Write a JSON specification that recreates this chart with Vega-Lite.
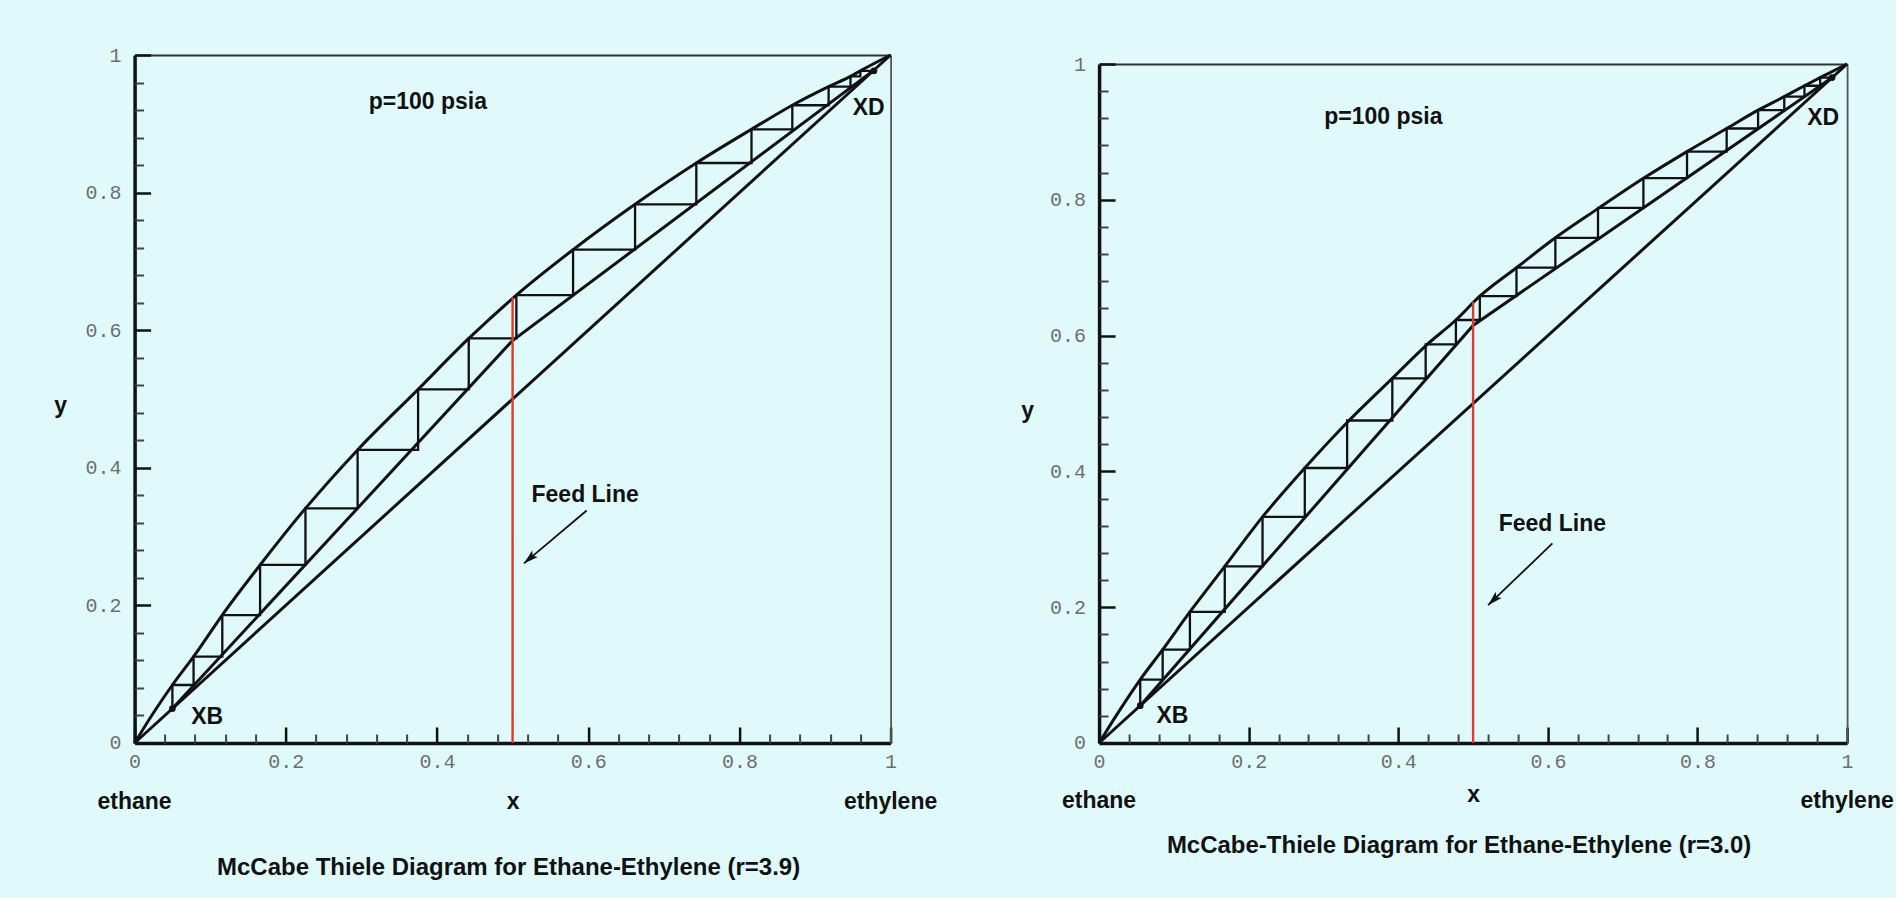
{
  "$schema": "https://vega.github.io/schema/vega-lite/v6.json",
  "background": "#e0fafb",
  "padding": {"left": 53.6, "top": 45, "right": 2, "bottom": 18},
  "spacing": 208.5,
  "bounds": "flush",
  "config": {"view": {"stroke": null}, "font": "Liberation Sans", "axis": {"grid": false}},
  "datasets": {
    "curvesL": [
      {"series": "equilibrium", "ord": 0, "x": 0, "y": 0},
      {"series": "equilibrium", "ord": 1, "x": 0.025, "y": 0.044},
      {"series": "equilibrium", "ord": 2, "x": 0.05, "y": 0.0843},
      {"series": "equilibrium", "ord": 3, "x": 0.078, "y": 0.1255},
      {"series": "equilibrium", "ord": 4, "x": 0.116, "y": 0.186},
      {"series": "equilibrium", "ord": 5, "x": 0.166, "y": 0.2587},
      {"series": "equilibrium", "ord": 6, "x": 0.226, "y": 0.341},
      {"series": "equilibrium", "ord": 7, "x": 0.295, "y": 0.426},
      {"series": "equilibrium", "ord": 8, "x": 0.375, "y": 0.514},
      {"series": "equilibrium", "ord": 9, "x": 0.442, "y": 0.588},
      {"series": "equilibrium", "ord": 10, "x": 0.505, "y": 0.651},
      {"series": "equilibrium", "ord": 11, "x": 0.58, "y": 0.717},
      {"series": "equilibrium", "ord": 12, "x": 0.662, "y": 0.783},
      {"series": "equilibrium", "ord": 13, "x": 0.743, "y": 0.843},
      {"series": "equilibrium", "ord": 14, "x": 0.816, "y": 0.892},
      {"series": "equilibrium", "ord": 15, "x": 0.87, "y": 0.927},
      {"series": "equilibrium", "ord": 16, "x": 0.918, "y": 0.954},
      {"series": "equilibrium", "ord": 17, "x": 0.947, "y": 0.969},
      {"series": "equilibrium", "ord": 18, "x": 0.96, "y": 0.977},
      {"series": "equilibrium", "ord": 19, "x": 1, "y": 1},
      {"series": "diagonal", "ord": 0, "x": 0, "y": 0},
      {"series": "diagonal", "ord": 1, "x": 1, "y": 1},
      {"series": "operating", "ord": 0, "x": 0.05, "y": 0.05},
      {"series": "operating", "ord": 1, "x": 0.5, "y": 0.585},
      {"series": "operating", "ord": 2, "x": 0.978, "y": 0.978},
      {"series": "stairs", "ord": 0, "x": 0.978, "y": 0.977},
      {"series": "stairs", "ord": 1, "x": 0.96, "y": 0.977},
      {"series": "stairs", "ord": 2, "x": 0.96, "y": 0.969},
      {"series": "stairs", "ord": 3, "x": 0.947, "y": 0.969},
      {"series": "stairs", "ord": 4, "x": 0.947, "y": 0.954},
      {"series": "stairs", "ord": 5, "x": 0.918, "y": 0.954},
      {"series": "stairs", "ord": 6, "x": 0.918, "y": 0.927},
      {"series": "stairs", "ord": 7, "x": 0.87, "y": 0.927},
      {"series": "stairs", "ord": 8, "x": 0.87, "y": 0.892},
      {"series": "stairs", "ord": 9, "x": 0.816, "y": 0.892},
      {"series": "stairs", "ord": 10, "x": 0.816, "y": 0.843},
      {"series": "stairs", "ord": 11, "x": 0.743, "y": 0.843},
      {"series": "stairs", "ord": 12, "x": 0.743, "y": 0.783},
      {"series": "stairs", "ord": 13, "x": 0.662, "y": 0.783},
      {"series": "stairs", "ord": 14, "x": 0.662, "y": 0.717},
      {"series": "stairs", "ord": 15, "x": 0.58, "y": 0.717},
      {"series": "stairs", "ord": 16, "x": 0.58, "y": 0.651},
      {"series": "stairs", "ord": 17, "x": 0.505, "y": 0.651},
      {"series": "stairs", "ord": 18, "x": 0.505, "y": 0.588},
      {"series": "stairs", "ord": 19, "x": 0.442, "y": 0.588},
      {"series": "stairs", "ord": 20, "x": 0.442, "y": 0.514},
      {"series": "stairs", "ord": 21, "x": 0.375, "y": 0.514},
      {"series": "stairs", "ord": 22, "x": 0.375, "y": 0.426},
      {"series": "stairs", "ord": 23, "x": 0.295, "y": 0.426},
      {"series": "stairs", "ord": 24, "x": 0.295, "y": 0.341},
      {"series": "stairs", "ord": 25, "x": 0.226, "y": 0.341},
      {"series": "stairs", "ord": 26, "x": 0.226, "y": 0.259},
      {"series": "stairs", "ord": 27, "x": 0.166, "y": 0.259},
      {"series": "stairs", "ord": 28, "x": 0.166, "y": 0.186},
      {"series": "stairs", "ord": 29, "x": 0.116, "y": 0.186},
      {"series": "stairs", "ord": 30, "x": 0.116, "y": 0.1255},
      {"series": "stairs", "ord": 31, "x": 0.078, "y": 0.1255},
      {"series": "stairs", "ord": 32, "x": 0.078, "y": 0.0843},
      {"series": "stairs", "ord": 33, "x": 0.05, "y": 0.0843},
      {"series": "stairs", "ord": 34, "x": 0.05, "y": 0.05}
    ],
    "feedL": [{"ord": 0, "x": 0.5, "y": 0}, {"ord": 1, "x": 0.5, "y": 0.648}],
    "ptsL": [{"label": "XB", "x": 0.05, "y": 0.05}, {"label": "XD", "x": 0.978, "y": 0.977}],
    "txtL": [
      {"label": "p=100 psia", "x": 0.388, "y": 0.931},
      {"label": "XD", "x": 0.971, "y": 0.923},
      {"label": "XB", "x": 0.096, "y": 0.038},
      {"label": "Feed Line", "x": 0.596, "y": 0.36}
    ],
    "arrowL": [{"part": "tail", "ord": 0, "x": 0.598, "y": 0.338}, {"part": "head", "ord": 1, "x": 0.515, "y": 0.261}],
    "endsL": [{"label": "ethane", "x": 0, "y": 0}, {"label": "ethylene", "x": 1, "y": 0}],
    "curvesR": [
      {"series": "equilibrium", "ord": 0, "x": 0, "y": 0},
      {"series": "equilibrium", "ord": 1, "x": 0.025, "y": 0.044},
      {"series": "equilibrium", "ord": 2, "x": 0.055, "y": 0.0934},
      {"series": "equilibrium", "ord": 3, "x": 0.085, "y": 0.1376},
      {"series": "equilibrium", "ord": 4, "x": 0.1214, "y": 0.193},
      {"series": "equilibrium", "ord": 5, "x": 0.168, "y": 0.26},
      {"series": "equilibrium", "ord": 6, "x": 0.2185, "y": 0.333},
      {"series": "equilibrium", "ord": 7, "x": 0.275, "y": 0.405},
      {"series": "equilibrium", "ord": 8, "x": 0.3316, "y": 0.472},
      {"series": "equilibrium", "ord": 9, "x": 0.392, "y": 0.537},
      {"series": "equilibrium", "ord": 10, "x": 0.4366, "y": 0.585},
      {"series": "equilibrium", "ord": 11, "x": 0.477, "y": 0.623},
      {"series": "equilibrium", "ord": 12, "x": 0.509, "y": 0.658},
      {"series": "equilibrium", "ord": 13, "x": 0.558, "y": 0.7},
      {"series": "equilibrium", "ord": 14, "x": 0.61, "y": 0.744},
      {"series": "equilibrium", "ord": 15, "x": 0.667, "y": 0.787},
      {"series": "equilibrium", "ord": 16, "x": 0.7277, "y": 0.8316},
      {"series": "equilibrium", "ord": 17, "x": 0.786, "y": 0.871},
      {"series": "equilibrium", "ord": 18, "x": 0.839, "y": 0.905},
      {"series": "equilibrium", "ord": 19, "x": 0.881, "y": 0.932},
      {"series": "equilibrium", "ord": 20, "x": 0.916, "y": 0.952},
      {"series": "equilibrium", "ord": 21, "x": 0.943, "y": 0.968},
      {"series": "equilibrium", "ord": 22, "x": 0.964, "y": 0.98},
      {"series": "equilibrium", "ord": 23, "x": 1, "y": 1},
      {"series": "diagonal", "ord": 0, "x": 0, "y": 0},
      {"series": "diagonal", "ord": 1, "x": 1, "y": 1},
      {"series": "operating", "ord": 0, "x": 0.055, "y": 0.055},
      {"series": "operating", "ord": 1, "x": 0.5, "y": 0.615},
      {"series": "operating", "ord": 2, "x": 0.98, "y": 0.98},
      {"series": "stairs", "ord": 0, "x": 0.98, "y": 0.98},
      {"series": "stairs", "ord": 1, "x": 0.964, "y": 0.98},
      {"series": "stairs", "ord": 2, "x": 0.964, "y": 0.968},
      {"series": "stairs", "ord": 3, "x": 0.943, "y": 0.968},
      {"series": "stairs", "ord": 4, "x": 0.943, "y": 0.952},
      {"series": "stairs", "ord": 5, "x": 0.916, "y": 0.952},
      {"series": "stairs", "ord": 6, "x": 0.916, "y": 0.932},
      {"series": "stairs", "ord": 7, "x": 0.881, "y": 0.932},
      {"series": "stairs", "ord": 8, "x": 0.881, "y": 0.905},
      {"series": "stairs", "ord": 9, "x": 0.839, "y": 0.905},
      {"series": "stairs", "ord": 10, "x": 0.839, "y": 0.871},
      {"series": "stairs", "ord": 11, "x": 0.786, "y": 0.871},
      {"series": "stairs", "ord": 12, "x": 0.786, "y": 0.832},
      {"series": "stairs", "ord": 13, "x": 0.7277, "y": 0.832},
      {"series": "stairs", "ord": 14, "x": 0.7277, "y": 0.788},
      {"series": "stairs", "ord": 15, "x": 0.667, "y": 0.788},
      {"series": "stairs", "ord": 16, "x": 0.667, "y": 0.744},
      {"series": "stairs", "ord": 17, "x": 0.61, "y": 0.744},
      {"series": "stairs", "ord": 18, "x": 0.61, "y": 0.7},
      {"series": "stairs", "ord": 19, "x": 0.558, "y": 0.7},
      {"series": "stairs", "ord": 20, "x": 0.558, "y": 0.658},
      {"series": "stairs", "ord": 21, "x": 0.509, "y": 0.658},
      {"series": "stairs", "ord": 22, "x": 0.509, "y": 0.623},
      {"series": "stairs", "ord": 23, "x": 0.477, "y": 0.623},
      {"series": "stairs", "ord": 24, "x": 0.477, "y": 0.587},
      {"series": "stairs", "ord": 25, "x": 0.4366, "y": 0.587},
      {"series": "stairs", "ord": 26, "x": 0.4366, "y": 0.537},
      {"series": "stairs", "ord": 27, "x": 0.392, "y": 0.537},
      {"series": "stairs", "ord": 28, "x": 0.392, "y": 0.475},
      {"series": "stairs", "ord": 29, "x": 0.3316, "y": 0.475},
      {"series": "stairs", "ord": 30, "x": 0.3316, "y": 0.405},
      {"series": "stairs", "ord": 31, "x": 0.275, "y": 0.405},
      {"series": "stairs", "ord": 32, "x": 0.275, "y": 0.333},
      {"series": "stairs", "ord": 33, "x": 0.2185, "y": 0.333},
      {"series": "stairs", "ord": 34, "x": 0.2185, "y": 0.26},
      {"series": "stairs", "ord": 35, "x": 0.168, "y": 0.26},
      {"series": "stairs", "ord": 36, "x": 0.168, "y": 0.193},
      {"series": "stairs", "ord": 37, "x": 0.1214, "y": 0.193},
      {"series": "stairs", "ord": 38, "x": 0.1214, "y": 0.1376},
      {"series": "stairs", "ord": 39, "x": 0.085, "y": 0.1376},
      {"series": "stairs", "ord": 40, "x": 0.085, "y": 0.0934},
      {"series": "stairs", "ord": 41, "x": 0.055, "y": 0.0934},
      {"series": "stairs", "ord": 42, "x": 0.055, "y": 0.055}
    ],
    "feedR": [{"ord": 0, "x": 0.5, "y": 0}, {"ord": 1, "x": 0.5, "y": 0.65}],
    "ptsR": [{"label": "XB", "x": 0.055, "y": 0.055}, {"label": "XD", "x": 0.98, "y": 0.98}],
    "txtR": [
      {"label": "p=100 psia", "x": 0.38, "y": 0.922},
      {"label": "XD", "x": 0.968, "y": 0.92},
      {"label": "XB", "x": 0.098, "y": 0.04},
      {"label": "Feed Line", "x": 0.606, "y": 0.322}
    ],
    "arrowR": [{"part": "tail", "ord": 0, "x": 0.606, "y": 0.294}, {"part": "head", "ord": 1, "x": 0.52, "y": 0.203}],
    "endsR": [{"label": "ethane", "x": 0, "y": 0}, {"label": "ethylene", "x": 1, "y": 0}]
  },
  "hconcat": [
    {
      "width": 756,
      "height": 688,
      "title": {"text": "McCabe Thiele Diagram for Ethane-Ethylene (r=3.9)", "orient": "bottom", "anchor": "middle", "offset": 42, "dx": -4, "font": "Liberation Sans", "fontSize": 24, "fontWeight": "bold", "color": "#111"},
      "resolve": {"axis": {"x": "independent", "y": "independent"}},
      "layer": [
        {
          "data": {"name": "curvesL"},
          "transform": [{"filter": "datum.series === 'equilibrium'"}],
          "mark": {"type": "line", "interpolate": "monotone", "color": "#111", "strokeWidth": 3},
          "encoding": {
            "x": {"field": "x", "type": "quantitative", "scale": {"domain": [0, 1], "nice": false},
              "axis": {"orient": "bottom", "values": [0, 0.2, 0.4, 0.6, 0.8, 1], "format": "~g", "tickSize": -16, "tickWidth": 2.5, "tickColor": "#111", "domainColor": "#111", "domainWidth": 3.5, "labelFont": "Liberation Mono", "labelFontSize": 20, "labelColor": "#6e6e6e", "labelPadding": 25, "labelFlush": false, "labelOverlap": false, "grid": false, "title": "x", "titleFont": "Liberation Sans", "titleFontSize": 23, "titleFontWeight": "bold", "titleColor": "#111", "titleY": 59, "titleBaseline": "middle"}},
            "y": {"field": "y", "type": "quantitative", "scale": {"domain": [0, 1], "nice": false},
              "axis": {"orient": "left", "values": [0, 0.2, 0.4, 0.6, 0.8, 1], "format": "~g", "tickSize": -16, "tickWidth": 2.5, "tickColor": "#111", "domainColor": "#111", "domainWidth": 3.5, "labelFont": "Liberation Mono", "labelFontSize": 20, "labelColor": "#6e6e6e", "labelPadding": 29.5, "labelFlush": false, "labelOverlap": false, "grid": false, "title": "y", "titleAngle": 0, "titleX": -74.5, "titleY": 350, "titleAlign": "center", "titleBaseline": "middle", "titleFont": "Liberation Sans", "titleFontSize": 23, "titleFontWeight": "bold", "titleColor": "#111"}},
            "order": {"field": "ord", "type": "quantitative"}
          }
        },
        {
          "data": {"name": "curvesL"},
          "transform": [{"filter": "datum.series === 'diagonal' || datum.series === 'operating'"}],
          "mark": {"type": "line", "color": "#111", "strokeWidth": 3},
          "encoding": {
            "x": {"field": "x", "type": "quantitative", "scale": {"domain": [0, 1], "nice": false},
              "axis": {"orient": "bottom", "values": [0.04, 0.08, 0.12, 0.16, 0.24, 0.28, 0.32, 0.36, 0.44, 0.48, 0.52, 0.56, 0.64, 0.68, 0.72, 0.76, 0.84, 0.88, 0.92, 0.96], "tickSize": -9, "tickWidth": 2, "tickColor": "#444", "labels": false, "domain": false, "grid": false, "title": null}},
            "y": {"field": "y", "type": "quantitative", "scale": {"domain": [0, 1], "nice": false},
              "axis": {"orient": "left", "values": [0.04, 0.08, 0.12, 0.16, 0.24, 0.28, 0.32, 0.36, 0.44, 0.48, 0.52, 0.56, 0.64, 0.68, 0.72, 0.76, 0.84, 0.88, 0.92, 0.96], "tickSize": -9, "tickWidth": 2, "tickColor": "#444", "labels": false, "domain": false, "grid": false, "title": null}},
            "detail": {"field": "series", "type": "nominal"},
            "order": {"field": "ord", "type": "quantitative"}
          }
        },
        {
          "data": {"name": "curvesL"},
          "transform": [{"filter": "datum.series === 'stairs'"}],
          "mark": {"type": "line", "color": "#111", "strokeWidth": 2.3},
          "encoding": {
            "x": {"field": "x", "type": "quantitative", "scale": {"domain": [0, 1], "nice": false},
              "axis": {"orient": "top", "ticks": false, "labels": false, "domain": true, "domainColor": "#333", "domainWidth": 2, "grid": false, "title": null}},
            "y": {"field": "y", "type": "quantitative", "scale": {"domain": [0, 1], "nice": false},
              "axis": {"orient": "right", "ticks": false, "labels": false, "domain": true, "domainColor": "#555", "domainWidth": 1.8, "grid": false, "title": null}},
            "order": {"field": "ord", "type": "quantitative"}
          }
        },
        {
          "data": {"name": "feedL"},
          "mark": {"type": "line", "color": "#dc3b35", "strokeWidth": 2.4},
          "encoding": {
            "x": {"field": "x", "type": "quantitative", "axis": null},
            "y": {"field": "y", "type": "quantitative", "axis": null},
            "order": {"field": "ord", "type": "quantitative"}
          }
        },
        {
          "data": {"name": "arrowL"},
          "mark": {"type": "line", "color": "#111", "strokeWidth": 1.8},
          "encoding": {
            "x": {"field": "x", "type": "quantitative", "axis": null},
            "y": {"field": "y", "type": "quantitative", "axis": null},
            "order": {"field": "ord", "type": "quantitative"}
          }
        },
        {
          "data": {"name": "arrowL"},
          "transform": [{"filter": "datum.part === 'head'"}],
          "mark": {"type": "point", "shape": "M0,0L0.7,2.4L0,1.9L-0.7,2.4Z", "filled": true, "color": "#111", "opacity": 1, "size": 150, "angle": 229},
          "encoding": {
            "x": {"field": "x", "type": "quantitative", "axis": null},
            "y": {"field": "y", "type": "quantitative", "axis": null}
          }
        },
        {
          "data": {"name": "ptsL"},
          "mark": {"type": "point", "filled": true, "color": "#111", "opacity": 1, "size": 45},
          "encoding": {
            "x": {"field": "x", "type": "quantitative", "axis": null},
            "y": {"field": "y", "type": "quantitative", "axis": null}
          }
        },
        {
          "data": {"name": "txtL"},
          "mark": {"type": "text", "font": "Liberation Sans", "fontSize": 23, "fontWeight": "bold", "color": "#111", "align": "center", "baseline": "middle"},
          "encoding": {
            "x": {"field": "x", "type": "quantitative", "axis": null},
            "y": {"field": "y", "type": "quantitative", "axis": null},
            "text": {"field": "label", "type": "nominal"}
          }
        },
        {
          "data": {"name": "endsL"},
          "mark": {"type": "text", "font": "Liberation Sans", "fontSize": 23, "fontWeight": "bold", "color": "#111", "align": "center", "baseline": "middle", "dy": 59},
          "encoding": {
            "x": {"field": "x", "type": "quantitative", "axis": null},
            "y": {"field": "y", "type": "quantitative", "axis": null},
            "text": {"field": "label", "type": "nominal"}
          }
        }
      ]
    },
    {
      "width": 748,
      "height": 688,
      "title": {"text": "McCabe-Thiele Diagram for Ethane-Ethylene (r=3.0)", "orient": "bottom", "anchor": "middle", "offset": 21, "dx": -14, "font": "Liberation Sans", "fontSize": 24, "fontWeight": "bold", "color": "#111"},
      "resolve": {"axis": {"x": "independent", "y": "independent"}},
      "layer": [
        {
          "data": {"name": "curvesR"},
          "transform": [{"filter": "datum.series === 'equilibrium'"}],
          "mark": {"type": "line", "interpolate": "monotone", "color": "#111", "strokeWidth": 3},
          "encoding": {
            "x": {"field": "x", "type": "quantitative", "scale": {"domain": [0, 1], "nice": false},
              "axis": {"orient": "bottom", "values": [0, 0.2, 0.4, 0.6, 0.8, 1], "format": "~g", "tickSize": -16, "tickWidth": 2.5, "tickColor": "#111", "domainColor": "#111", "domainWidth": 3.5, "labelFont": "Liberation Mono", "labelFontSize": 20, "labelColor": "#6e6e6e", "labelPadding": 25, "labelFlush": false, "labelOverlap": false, "grid": false, "title": "x", "titleFont": "Liberation Sans", "titleFontSize": 23, "titleFontWeight": "bold", "titleColor": "#111", "titleY": 52, "titleBaseline": "middle"}},
            "y": {"field": "y", "type": "quantitative", "scale": {"domain": [0, 1], "nice": false, "range": [688, 9]},
              "axis": {"orient": "left", "values": [0, 0.2, 0.4, 0.6, 0.8, 1], "format": "~g", "tickSize": -16, "tickWidth": 2.5, "tickColor": "#111", "domainColor": "#111", "domainWidth": 3.5, "labelFont": "Liberation Mono", "labelFontSize": 20, "labelColor": "#6e6e6e", "labelPadding": 29.5, "labelFlush": false, "labelOverlap": false, "grid": false, "title": "y", "titleAngle": 0, "titleX": -72, "titleY": 355, "titleAlign": "center", "titleBaseline": "middle", "titleFont": "Liberation Sans", "titleFontSize": 23, "titleFontWeight": "bold", "titleColor": "#111"}},
            "order": {"field": "ord", "type": "quantitative"}
          }
        },
        {
          "data": {"name": "curvesR"},
          "transform": [{"filter": "datum.series === 'diagonal' || datum.series === 'operating'"}],
          "mark": {"type": "line", "color": "#111", "strokeWidth": 3},
          "encoding": {
            "x": {"field": "x", "type": "quantitative", "scale": {"domain": [0, 1], "nice": false},
              "axis": {"orient": "bottom", "values": [0.04, 0.08, 0.12, 0.16, 0.24, 0.28, 0.32, 0.36, 0.44, 0.48, 0.52, 0.56, 0.64, 0.68, 0.72, 0.76, 0.84, 0.88, 0.92, 0.96], "tickSize": -9, "tickWidth": 2, "tickColor": "#444", "labels": false, "domain": false, "grid": false, "title": null}},
            "y": {"field": "y", "type": "quantitative", "scale": {"domain": [0, 1], "nice": false, "range": [688, 9]},
              "axis": {"orient": "left", "values": [0.04, 0.08, 0.12, 0.16, 0.24, 0.28, 0.32, 0.36, 0.44, 0.48, 0.52, 0.56, 0.64, 0.68, 0.72, 0.76, 0.84, 0.88, 0.92, 0.96], "tickSize": -9, "tickWidth": 2, "tickColor": "#444", "labels": false, "domain": false, "grid": false, "title": null}},
            "detail": {"field": "series", "type": "nominal"},
            "order": {"field": "ord", "type": "quantitative"}
          }
        },
        {
          "data": {"name": "curvesR"},
          "transform": [{"filter": "datum.series === 'stairs'"}],
          "mark": {"type": "line", "color": "#111", "strokeWidth": 2.3},
          "encoding": {
            "x": {"field": "x", "type": "quantitative", "scale": {"domain": [0, 1], "nice": false},
              "axis": {"orient": "top", "offset": -9, "ticks": false, "labels": false, "domain": true, "domainColor": "#333", "domainWidth": 2, "grid": false, "title": null}},
            "y": {"field": "y", "type": "quantitative", "scale": {"domain": [0, 1], "nice": false, "range": [688, 9]},
              "axis": {"orient": "right", "ticks": false, "labels": false, "domain": true, "domainColor": "#555", "domainWidth": 1.8, "grid": false, "title": null}},
            "order": {"field": "ord", "type": "quantitative"}
          }
        },
        {
          "data": {"name": "feedR"},
          "mark": {"type": "line", "color": "#dc3b35", "strokeWidth": 2.4},
          "encoding": {
            "x": {"field": "x", "type": "quantitative", "axis": null},
            "y": {"field": "y", "type": "quantitative", "axis": null},
            "order": {"field": "ord", "type": "quantitative"}
          }
        },
        {
          "data": {"name": "arrowR"},
          "mark": {"type": "line", "color": "#111", "strokeWidth": 1.8},
          "encoding": {
            "x": {"field": "x", "type": "quantitative", "axis": null},
            "y": {"field": "y", "type": "quantitative", "axis": null},
            "order": {"field": "ord", "type": "quantitative"}
          }
        },
        {
          "data": {"name": "arrowR"},
          "transform": [{"filter": "datum.part === 'head'"}],
          "mark": {"type": "point", "shape": "M0,0L0.7,2.4L0,1.9L-0.7,2.4Z", "filled": true, "color": "#111", "opacity": 1, "size": 150, "angle": 226},
          "encoding": {
            "x": {"field": "x", "type": "quantitative", "axis": null},
            "y": {"field": "y", "type": "quantitative", "axis": null}
          }
        },
        {
          "data": {"name": "ptsR"},
          "mark": {"type": "point", "filled": true, "color": "#111", "opacity": 1, "size": 45},
          "encoding": {
            "x": {"field": "x", "type": "quantitative", "axis": null},
            "y": {"field": "y", "type": "quantitative", "axis": null}
          }
        },
        {
          "data": {"name": "txtR"},
          "mark": {"type": "text", "font": "Liberation Sans", "fontSize": 23, "fontWeight": "bold", "color": "#111", "align": "center", "baseline": "middle"},
          "encoding": {
            "x": {"field": "x", "type": "quantitative", "axis": null},
            "y": {"field": "y", "type": "quantitative", "axis": null},
            "text": {"field": "label", "type": "nominal"}
          }
        },
        {
          "data": {"name": "endsR"},
          "mark": {"type": "text", "font": "Liberation Sans", "fontSize": 23, "fontWeight": "bold", "color": "#111", "align": "center", "baseline": "middle", "dy": 58},
          "encoding": {
            "x": {"field": "x", "type": "quantitative", "axis": null},
            "y": {"field": "y", "type": "quantitative", "axis": null},
            "text": {"field": "label", "type": "nominal"}
          }
        }
      ]
    }
  ]
}
